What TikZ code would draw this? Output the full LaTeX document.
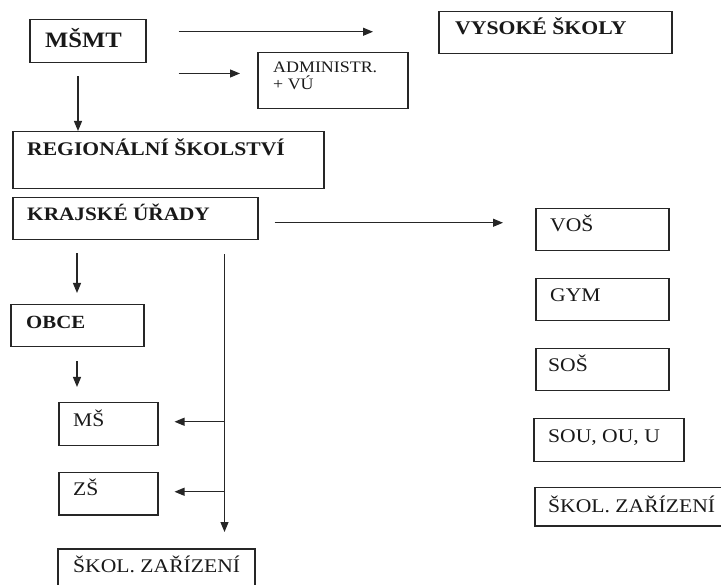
\documentclass[tikz,border=0pt]{standalone}
\usepackage{fontspec}
\setmainfont{Liberation Serif}[FakeStretch=1.12]
\usetikzlibrary{arrows.meta,calc}
\tikzset{
  box/.style={draw=black!85, line width=1.5pt, rectangle, inner sep=0pt, anchor=north west},
  txt/.style={anchor=base west, inner sep=0pt, text=black!90},
  arr/.style={draw=black!85, line width=1.1pt, -{Triangle[length=10pt,width=8pt]}},
}
\begin{document}
\begin{tikzpicture}[x=1pt,y=-1pt]
\useasboundingbox (0,0) rectangle (721,585);
\clip (0,0) rectangle (721,585);
\fill[white] (0,0) rectangle (721,585);
% boxes
\node[box, minimum width=116pt, minimum height=43pt] (msmt) at (29,19) {};
\node[box, minimum width=233pt, minimum height=42pt] (vs) at (438,11) {};
\node[box, minimum width=150pt, minimum height=56pt] (adm) at (257,52) {};
\node[box, minimum width=311pt, minimum height=57pt] (reg) at (12,131) {};
\node[box, minimum width=245pt, minimum height=42pt] (kraj) at (12,197) {};
\node[box, minimum width=133pt, minimum height=42pt] (obce) at (10,304) {};
\node[box, minimum width=99pt, minimum height=43pt] (ms) at (58,402) {};
\node[box, minimum width=99pt, minimum height=42pt] (zs) at (58,472) {};
\node[box, minimum width=197pt, minimum height=50pt] (skolL) at (57,548) {};
\node[box, minimum width=133pt, minimum height=42pt] (vos) at (535,208) {};
\node[box, minimum width=133pt, minimum height=42pt] (gym) at (535,278) {};
\node[box, minimum width=133pt, minimum height=42pt] (sos) at (535,348) {};
\node[box, minimum width=150pt, minimum height=43pt] (sou) at (533,418) {};
\node[box, minimum width=200pt, minimum height=38pt] (skolR) at (534,487) {};
% texts
\node[txt, font=\fontsize{22}{24}\selectfont\bfseries] (tmsmt) at (45,48) {MŠMT};
\node[txt, font=\fontsize{19.4}{22}\selectfont\bfseries] (tvs) at (455,35) {VYSOKÉ ŠKOLY};
\node[txt, font=\fontsize{16}{18}\selectfont] (tadm1) at (273,73) {ADMINISTR.};
\node[txt, font=\fontsize{16}{18}\selectfont] (tadm2) at (273,90) {+ VÚ};
\node[txt, font=\fontsize{19.3}{22}\selectfont\bfseries] (treg) at (27,156) {REGIONÁLNÍ ŠKOLSTVÍ};
\node[txt, font=\fontsize{19}{22}\selectfont\bfseries] (tkraj) at (27,221) {KRAJSKÉ ÚŘADY};
\node[txt, font=\fontsize{18.6}{22}\selectfont\bfseries] (tobce) at (26,329) {OBCE};
\node[txt, font=\fontsize{19.3}{22}\selectfont] (tms) at (73,427) {MŠ};
\node[txt, font=\fontsize{19.3}{22}\selectfont] (tzs) at (73,496) {ZŠ};
\node[txt, font=\fontsize{19.3}{22}\selectfont] (tskolL) at (73,572) {ŠKOL. ZAŘÍZENÍ};
\node[txt, font=\fontsize{19.3}{22}\selectfont] (tvos) at (550,232) {VOŠ};
\node[txt, font=\fontsize{19.3}{22}\selectfont] (tgym) at (550,302) {GYM};
\node[txt, font=\fontsize{19.3}{22}\selectfont] (tsos) at (548,372) {SOŠ};
\node[txt, font=\fontsize{19.3}{22}\selectfont] (tsou) at (548,443) {SOU, OU, U};
\node[txt, font=\fontsize{19.3}{22}\selectfont] (tskolR) at (548,512) {ŠKOL. ZAŘÍZENÍ};
% connectors
\coordinate (a1s) at ([xshift=32pt,yshift=9.5pt]msmt.east);
\draw[arr, shorten >=65pt] (a1s) -- (a1s -| vs.west);
\coordinate (a2s) at ([xshift=32pt,yshift=-10pt]msmt.south east);
\draw[arr, shorten >=17pt] (a2s) -- (a2s -| adm.west);
\coordinate (a3s) at ([yshift=-13pt]msmt.south -| 78,0);
\draw[arr] (a3s) -- (a3s |- reg.north);
\coordinate (a4s) at ([xshift=16pt,yshift=-4pt]kraj.east);
\draw[arr, shorten >=32pt] (a4s) -- (a4s -| vos.west);
\coordinate (a5s) at ([yshift=-13pt]kraj.south -| 77,0);
\draw[arr, shorten >=11pt] (a5s) -- (a5s |- obce.north);
\coordinate (a6s) at ([yshift=-14pt]obce.south -| 77,0);
\draw[arr, shorten >=15pt] (a6s) -- (a6s |- ms.north);
\coordinate (vtop) at ([xshift=-34pt,yshift=-14pt]kraj.south east);
\draw[arr, shorten >=16pt] (vtop) -- (vtop |- skolL.north);
\coordinate (bms) at ([yshift=2.5pt]vtop |- ms.east);
\draw[arr, shorten >=16pt] (bms) -- (bms -| ms.east);
\coordinate (bzs) at ([yshift=2pt]vtop |- zs.east);
\draw[arr, shorten >=16pt] (bzs) -- (bzs -| zs.east);
\end{tikzpicture}
\end{document}
